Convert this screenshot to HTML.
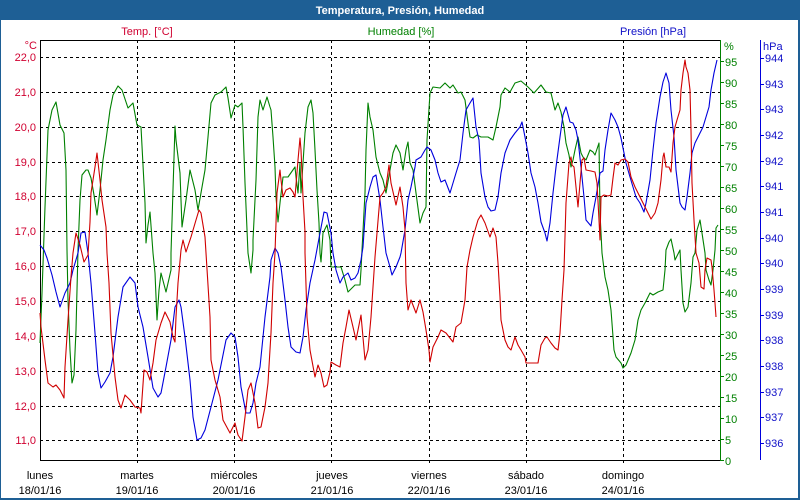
<!DOCTYPE html>
<html><head><meta charset="utf-8"><style>
html,body{margin:0;padding:0;background:#fff;}
svg{display:block;}
text{font-family:"Liberation Sans",sans-serif;font-size:11px;}
</style></head><body>
<svg width="800" height="500" viewBox="0 0 800 500" xmlns="http://www.w3.org/2000/svg">
<rect x="0" y="0" width="800" height="500" fill="#ffffff"/>
<rect x="0" y="0" width="800" height="20" fill="#1e5f95"/>
<rect x="0" y="0" width="1" height="500" fill="#1e5f95"/>
<rect x="798" y="0" width="2" height="500" fill="#1e5f95"/>
<rect x="0" y="498" width="800" height="2" fill="#1e5f95"/>
<text x="400" y="14" text-anchor="middle" fill="#ffffff" font-weight="bold">Temperatura, Presión, Humedad</text>

<text x="147" y="35" text-anchor="middle" fill="#d00030">Temp. [°C]</text>
<text x="401" y="35" text-anchor="middle" fill="#008000">Humedad [%]</text>
<text x="653" y="35" text-anchor="middle" fill="#1010c8">Presión [hPa]</text>

<g stroke="#000" stroke-width="1" stroke-dasharray="3,3" shape-rendering="crispEdges">
<line x1="40" y1="57.5" x2="720" y2="57.5"/>
<line x1="40" y1="92.5" x2="720" y2="92.5"/>
<line x1="40" y1="127.5" x2="720" y2="127.5"/>
<line x1="40" y1="162.5" x2="720" y2="162.5"/>
<line x1="40" y1="196.5" x2="720" y2="196.5"/>
<line x1="40" y1="231.5" x2="720" y2="231.5"/>
<line x1="40" y1="266.5" x2="720" y2="266.5"/>
<line x1="40" y1="301.5" x2="720" y2="301.5"/>
<line x1="40" y1="336.5" x2="720" y2="336.5"/>
<line x1="40" y1="371.5" x2="720" y2="371.5"/>
<line x1="40" y1="406.5" x2="720" y2="406.5"/>
<line x1="40" y1="440.5" x2="720" y2="440.5"/>
<line x1="137.5" y1="40" x2="137.5" y2="464"/>
<line x1="234.5" y1="40" x2="234.5" y2="464"/>
<line x1="331.5" y1="40" x2="331.5" y2="464"/>
<line x1="429.5" y1="40" x2="429.5" y2="464"/>
<line x1="526.5" y1="40" x2="526.5" y2="464"/>
<line x1="623.5" y1="40" x2="623.5" y2="464"/>
</g>

<g shape-rendering="crispEdges" stroke-width="1">
<line x1="40.5" y1="40" x2="40.5" y2="461" stroke="#000"/>
<line x1="40" y1="40.5" x2="720" y2="40.5" stroke="#000"/>
<line x1="40" y1="460.5" x2="720" y2="460.5" stroke="#000"/>
<line x1="720.5" y1="40" x2="720.5" y2="461" stroke="#008000"/>
<line x1="760.5" y1="40" x2="760.5" y2="460" stroke="#0000dd"/>
</g>

<!-- left axis labels -->
<g fill="#d00030" text-anchor="end">
<text x="37" y="49">°C</text>
<text x="36" y="61">22,0</text>
<text x="36" y="96">21,0</text>
<text x="36" y="131">20,0</text>
<text x="36" y="166">19,0</text>
<text x="36" y="200">18,0</text>
<text x="36" y="235">17,0</text>
<text x="36" y="270">16,0</text>
<text x="36" y="305">15,0</text>
<text x="36" y="340">14,0</text>
<text x="36" y="375">13,0</text>
<text x="36" y="410">12,0</text>
<text x="36" y="444">11,0</text>
</g>

<!-- humidity axis -->
<g stroke="#008000" shape-rendering="crispEdges">
<line x1="720" y1="460.5" x2="724" y2="460.5"/><line x1="720" y1="439.5" x2="724" y2="439.5"/>
<line x1="720" y1="418.5" x2="724" y2="418.5"/><line x1="720" y1="397.5" x2="724" y2="397.5"/>
<line x1="720" y1="376.5" x2="724" y2="376.5"/><line x1="720" y1="355.5" x2="724" y2="355.5"/>
<line x1="720" y1="334.5" x2="724" y2="334.5"/><line x1="720" y1="313.5" x2="724" y2="313.5"/>
<line x1="720" y1="292.5" x2="724" y2="292.5"/><line x1="720" y1="271.5" x2="724" y2="271.5"/>
<line x1="720" y1="250.5" x2="724" y2="250.5"/><line x1="720" y1="229.5" x2="724" y2="229.5"/>
<line x1="720" y1="208.5" x2="724" y2="208.5"/><line x1="720" y1="187.5" x2="724" y2="187.5"/>
<line x1="720" y1="166.5" x2="724" y2="166.5"/><line x1="720" y1="145.5" x2="724" y2="145.5"/>
<line x1="720" y1="124.5" x2="724" y2="124.5"/><line x1="720" y1="103.5" x2="724" y2="103.5"/>
<line x1="720" y1="82.5" x2="724" y2="82.5"/><line x1="720" y1="61.5" x2="724" y2="61.5"/>
</g>
<g fill="#008000">
<text x="724" y="50">%</text>
<text x="725" y="465">0</text><text x="725" y="444">5</text>
<text x="725" y="423">10</text><text x="725" y="402">15</text>
<text x="725" y="381">20</text><text x="725" y="360">25</text>
<text x="725" y="339">30</text><text x="725" y="318">35</text>
<text x="725" y="297">40</text><text x="725" y="276">45</text>
<text x="725" y="255">50</text><text x="725" y="234">55</text>
<text x="725" y="213">60</text><text x="725" y="192">65</text>
<text x="725" y="171">70</text><text x="725" y="150">75</text>
<text x="725" y="129">80</text><text x="725" y="108">85</text>
<text x="725" y="87">90</text><text x="725" y="66">95</text>
</g>

<!-- pressure axis -->
<g stroke="#0000dd" shape-rendering="crispEdges">
<line x1="760" y1="58.5" x2="764" y2="58.5"/><line x1="760" y1="84.5" x2="764" y2="84.5"/>
<line x1="760" y1="109.5" x2="764" y2="109.5"/><line x1="760" y1="135.5" x2="764" y2="135.5"/>
<line x1="760" y1="161.5" x2="764" y2="161.5"/><line x1="760" y1="186.5" x2="764" y2="186.5"/>
<line x1="760" y1="212.5" x2="764" y2="212.5"/><line x1="760" y1="238.5" x2="764" y2="238.5"/>
<line x1="760" y1="263.5" x2="764" y2="263.5"/><line x1="760" y1="289.5" x2="764" y2="289.5"/>
<line x1="760" y1="315.5" x2="764" y2="315.5"/><line x1="760" y1="340.5" x2="764" y2="340.5"/>
<line x1="760" y1="366.5" x2="764" y2="366.5"/><line x1="760" y1="392.5" x2="764" y2="392.5"/>
<line x1="760" y1="417.5" x2="764" y2="417.5"/><line x1="760" y1="443.5" x2="764" y2="443.5"/>
</g>
<g fill="#1010c8">
<text x="763" y="50">hPa</text>
<text x="765" y="62">944</text><text x="765" y="88">943</text>
<text x="765" y="113">943</text><text x="765" y="139">942</text>
<text x="765" y="165">942</text><text x="765" y="190">941</text>
<text x="765" y="216">941</text><text x="765" y="242">940</text>
<text x="765" y="267">940</text><text x="765" y="293">939</text>
<text x="765" y="319">939</text><text x="765" y="344">938</text>
<text x="765" y="370">938</text><text x="765" y="396">937</text>
<text x="765" y="421">937</text><text x="765" y="447">936</text>
</g>

<!-- day labels -->
<g fill="#000" text-anchor="middle">
<text x="40" y="479">lunes</text><text x="40" y="494">18/01/16</text>
<text x="137" y="479">martes</text><text x="137" y="494">19/01/16</text>
<text x="234" y="479">miércoles</text><text x="234" y="494">20/01/16</text>
<text x="332" y="479">jueves</text><text x="332" y="494">21/01/16</text>
<text x="429" y="479">viernes</text><text x="429" y="494">22/01/16</text>
<text x="526" y="479">sábado</text><text x="526" y="494">23/01/16</text>
<text x="623" y="479">domingo</text><text x="623" y="494">24/01/16</text>
</g>

<!-- humidity series -->
<polyline fill="none" stroke="#008000" stroke-width="1.1" stroke-linejoin="round" points="40,343 42,293 45,207 48,130 52,110 56,102 60,125 64,133 66,170 67,250 68,300 70,350 72,383 74,375 76,330 78,250 80,200 82,175 86,170 88,170 91,178 94,195 97,215 100,190 103,160 106,140 110,110 113,95 118,86 122,90 128,108 133,103 137,125 141,127 145,203 146,243 148,225 150,212 153,253 155,273 157,320 159,290 161,273 166,292 171,270 171,253 175,126 176,140 180,173 182,227 186,200 190,170 195,190 198,210 205,170 208,137 211,103 215,95 221,92 226,87 228,98 231,118 235,105 238,107 242,103 243,127 245,183 248,253 251,273 253,250 253,240 256,180 258,117 260,100 263,110 267,97 270,107 271,110 273,137 275,167 276,197 278,222 280,203 283,177 288,177 295,167 296,177 298,193 300,163 301,193 305,133 308,107 311,100 313,113 315,150 317,190 319,223 320,253 321,262 323,233 327,225 330,240 331,267 341,267 345,280 348,292 355,285 360,285 361,270 362,250 365,193 366,150 368,103 370,117 373,130 376,157 380,173 383,180 386,193 390,170 393,153 396,145 400,153 403,170 406,150 408,142 410,163 413,170 416,193 420,223 423,213 426,207 427,140 430,93 433,87 440,88 445,83 450,88 453,85 458,93 461,92 465,100 468,123 470,137 473,138 477,135 481,137 488,137 493,140 496,127 500,107 501,95 505,88 510,92 515,83 521,81 528,87 534,93 541,85 546,92 551,93 555,110 558,103 561,112 564,127 566,143 569,155 571,167 573,160 575,150 578,137 581,153 583,157 586,160 590,150 593,152 595,155 599,143 600,213 602,253 605,277 608,290 611,310 614,350 616,357 621,363 623,368 626,365 631,353 635,340 638,320 641,310 645,303 650,293 653,295 658,292 663,290 665,270 666,250 669,242 671,239 674,253 675,260 680,250 681,270 683,303 685,312 688,307 691,283 693,257 695,253 697,230 700,220 702,233 705,253 706,270 709,280 711,285 713,270 715,250 716,228 718,225"/>

<!-- pressure series -->
<polyline fill="none" stroke="#0000dd" stroke-width="1.1" stroke-linejoin="round" points="40,245 44,250 47,258 52,275 56,292 60,307 65,293 70,283 73,270 78,253 81,233 85,232 88,253 91,283 95,333 98,373 101,388 105,382 110,373 113,357 118,317 123,287 130,277 135,283 138,307 143,327 148,357 153,388 158,397 161,393 166,367 171,340 175,307 179,300 181,307 185,337 190,380 193,417 197,440 201,438 205,430 211,407 218,380 226,340 231,333 235,337 238,357 241,387 246,413 250,413 253,403 256,383 260,367 265,317 270,277 271,260 275,248 278,253 281,267 285,300 288,327 291,347 296,352 300,353 303,337 306,310 310,283 315,260 320,233 324,212 327,213 331,233 333,253 336,270 340,283 343,277 348,273 351,280 355,278 358,273 361,260 363,247 366,203 370,187 373,177 376,175 380,200 383,227 386,253 390,267 392,275 396,267 400,257 401,253 405,230 408,200 411,187 415,167 416,160 421,157 425,150 427,147 431,150 435,160 438,173 441,182 445,180 450,193 453,183 456,173 460,160 463,133 466,110 470,103 473,98 476,127 479,140 481,173 485,197 488,207 491,211 495,210 498,197 501,173 505,153 510,140 515,133 520,127 522,122 525,137 528,153 531,173 535,187 538,203 541,222 545,233 547,241 550,223 553,193 556,167 560,137 563,115 566,107 570,122 573,123 576,130 578,140 581,167 584,197 586,220 591,226 593,213 596,197 600,173 603,171 605,150 608,130 611,113 615,120 618,127 621,138 624,153 626,163 630,177 633,187 636,197 640,203 644,212 646,203 650,180 653,150 656,123 660,97 663,82 666,73 669,83 671,110 674,137 676,170 680,203 682,207 685,210 687,197 690,173 692,153 695,143 700,133 703,127 706,117 709,107 711,90 714,73 717,60"/>

<!-- temperature series -->
<polyline fill="none" stroke="#d00000" stroke-width="1.1" stroke-linejoin="round" points="40,313 41,327 45,360 48,383 53,387 56,385 60,390 64,398 65,367 68,320 71,277 73,253 76,233 80,245 84,262 88,255 90,222 91,193 95,167 97,153 100,180 102,200 106,227 107,253 109,283 111,333 115,377 118,400 121,408 125,395 130,400 135,407 140,408 141,413 144,370 147,372 150,380 153,363 156,340 161,323 165,312 170,322 173,337 175,342 176,317 178,283 181,250 183,240 186,252 191,237 196,220 199,210 201,213 205,237 206,253 210,317 211,360 215,380 220,397 223,420 230,433 235,423 238,435 242,441 245,417 248,390 251,383 255,403 258,428 261,427 265,407 268,383 271,333 273,283 275,253 277,193 280,170 281,180 283,197 286,190 290,188 293,192 295,197 298,160 300,138 301,150 303,197 305,232 305,253 307,317 310,350 315,377 318,365 321,373 324,387 327,385 330,372 331,362 336,365 340,367 343,343 346,327 349,310 353,327 356,340 361,315 365,360 368,350 371,317 375,257 380,197 383,193 386,187 389,165 391,183 396,205 400,187 403,207 405,230 406,283 408,310 411,300 416,313 420,300 423,312 426,330 429,350 430,362 433,347 438,337 441,330 446,333 453,342 456,327 461,323 465,300 467,267 470,250 473,237 478,220 481,215 485,223 490,237 493,228 496,237 498,263 500,297 501,320 505,340 508,347 511,350 515,337 518,345 521,350 525,357 526,363 530,363 538,363 541,345 545,338 547,337 551,343 555,348 558,350 560,333 562,300 564,270 566,203 569,163 571,157 572,165 574,167 576,187 578,207 580,183 582,160 584,158 586,170 591,171 595,172 597,183 599,220 600,240 601,197 604,195 608,196 611,195 613,178 615,163 618,165 621,160 625,159 628,162 631,177 635,187 640,197 645,207 651,219 655,213 658,203 661,180 663,157 664,153 666,167 669,167 671,172 673,143 675,127 677,120 680,110 681,90 683,73 685,60 686,67 688,73 690,90 691,130 692,183 694,220 696,253 699,263 701,287 704,289 705,270 707,258 711,260 712,267 714,290 715,303 716,317"/>
</svg>
</body></html>
